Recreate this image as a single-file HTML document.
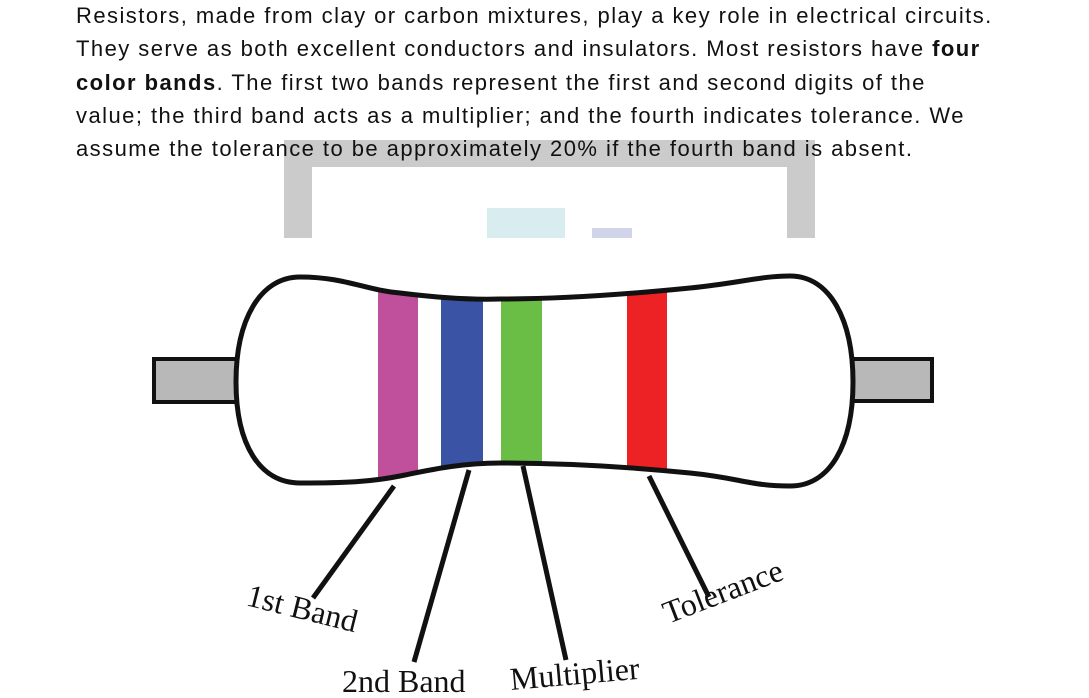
<!DOCTYPE html>
<html><head><style>
body{margin:0;width:1089px;height:698px;background:#fff;overflow:hidden;position:relative}
.t{position:absolute;left:76px;top:-1px;width:1013px;white-space:nowrap;font-family:"Comic Sans MS","Liberation Sans",sans-serif;font-size:22px;letter-spacing:1.45px;line-height:33.3px;color:#111;z-index:2}
svg{position:absolute;left:0;top:0}
</style></head><body>
<svg width="1089" height="698">
<path d="M284 140H815V238H787V167H312V238H284Z" fill="#cbcbcb"/>
<rect x="487" y="208" width="78" height="30" fill="#d9edf1"/>
<rect x="592" y="228" width="40" height="10" fill="#d2d5ea"/>
<rect x="154" y="359" width="84" height="43" fill="#b8b8b8" stroke="#111" stroke-width="4"/>
<rect x="850" y="359" width="82" height="42" fill="#b8b8b8" stroke="#111" stroke-width="4"/>
<defs><clipPath id="c"><path id="b" d="M236 382C236 320 260 277 300 277C345 277 365 290 400 293C440 298 470 300 500 299C560 299 620 295 690 288C740 283 760 276 790 276C830 276 853 320 853 382C853 445 830 486 790 486C750 486 740 478 690 473C620 466 560 463 500 463C460 463 430 470 400 476C370 482 345 483 300 483C260 483 236 445 236 382Z"/></clipPath></defs>
<use href="#b" fill="#fff"/>
<g clip-path="url(#c)">
<rect x="378" y="270" width="40" height="220" fill="#c04f9c"/>
<rect x="441" y="270" width="42" height="220" fill="#3a53a4"/>
<rect x="501" y="270" width="41" height="220" fill="#6abd45"/>
<rect x="627" y="270" width="40" height="220" fill="#ed2224"/>
</g>
<use href="#b" fill="none" stroke="#111" stroke-width="5"/>
<g stroke="#111" stroke-width="5">
<line x1="394" y1="486" x2="313" y2="598"/>
<line x1="469" y1="470" x2="414" y2="662"/>
<line x1="523" y1="466" x2="566" y2="660"/>
<line x1="649" y1="476" x2="709" y2="597"/>
</g>
<g font-family="Liberation Serif,serif" font-size="32" fill="#111">
<text transform="translate(245,605) rotate(14)">1st Band</text>
<text x="342" y="692">2nd Band</text>
<text transform="translate(511,690) rotate(-5)">Multiplier</text>
<text transform="translate(668,624) rotate(-21)">Tolerance</text>
</g>
</svg>
<div class="t">Resistors, made from clay or carbon mixtures, play a key role in electrical circuits.<br>They serve as both excellent conductors and insulators. Most resistors have <b>four</b><br><b>color bands</b>. The first two bands represent the first and second digits of the<br>value; the third band acts as a multiplier; and the fourth indicates tolerance. We<br>assume the tolerance to be approximately 20% if the fourth band is absent.</div>
</body></html>
